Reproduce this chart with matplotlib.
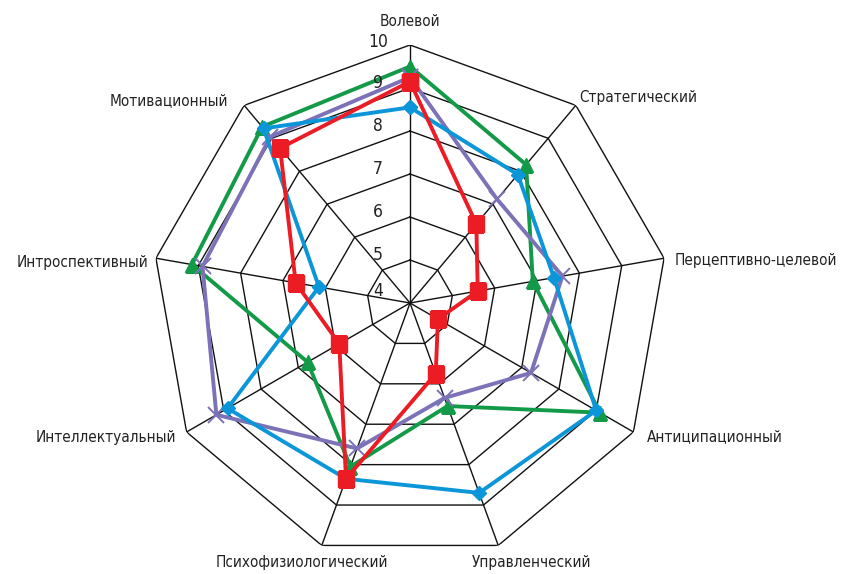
import numpy as np
import matplotlib
matplotlib.use('Agg')
from matplotlib import pyplot as plt
from matplotlib import font_manager as fm
from matplotlib.ft2font import FT2Font
from matplotlib.textpath import TextPath

categories = ['Волевой', 'Стратегический', 'Перцептивно-целевой', 'Антиципационный',
              'Управленческий', 'Психофизиологический', 'Интеллектуальный',
              'Интроспективный', 'Мотивационный']
green = [9.5, 8.2, 6.9, 9.1, 6.55, 8.05, 6.75, 9.15, 9.35]
blue = [8.55, 7.9, 7.4, 9.0, 8.7, 8.35, 8.9, 6.15, 9.3]
purple = [9.25, 7.15, 7.6, 7.25, 6.35, 7.6, 9.2, 8.9, 9.05]
red = [9.15, 6.4, 5.6, 4.75, 5.75, 8.35, 5.9, 6.7, 8.7]
rings = [5, 6, 7, 8, 9, 10]
tick_labels = [4, 5, 6, 7, 8, 9, 10]


def has_cyrillic(path):
    try:
        cmap = FT2Font(path).get_charmap()
    except Exception:
        return False
    return all(ord(ch) in cmap for ch in 'ВолевойПерцж')


# the original uses a condensed grotesque; take a narrow face with cyrillic if there is one
prop = None
for f in fm.fontManager.ttflist:
    narrowish = 'Narrow' in f.name or 'Condensed' in f.name or f.stretch in ('condensed', 'semi-condensed')
    if narrowish and f.weight in (400, 'normal', 'regular') and f.style == 'normal' \
            and 'Mono' not in f.name and has_cyrillic(f.fname):
        prop = fm.FontProperties(fname=f.fname)
        break
if prop is None:
    prop = fm.FontProperties(family='Liberation Sans')

# size chosen so that the widest right-hand label is ~160 px wide, like the reference
w10 = TextPath((0, 0), 'Перцептивно-целевой', size=10, prop=prop).get_extents().width * 100 / 72
fsize = min(14.5, 10 * 160 / w10)

n = len(categories)
angles = np.arange(n) * 2 * np.pi / n
closed = np.append(angles, angles[0])

fig = plt.figure(figsize=(8.46, 5.74), dpi=100)
ax = fig.add_axes([152 / 846, 13 / 574, 516 / 846, 516 / 574], projection='polar')
ax.set_theta_zero_location('N')
ax.set_theta_direction(-1)
ax.set_ylim(4, 10)
ax.axis('off')

# polygon grid
for r in rings:
    ax.plot(closed, [r] * (n + 1), color='#111111', lw=1.0, zorder=1)
for a in angles:
    ax.plot([a, a], [4, 10], color='#111111', lw=1.0, zorder=1)

ax.plot(closed, np.append(green, green[0]), color='#139a48', lw=2.8, marker='^',
        markersize=10.5, zorder=3)
ax.plot(closed, np.append(purple, purple[0]), color='#7b72b8', lw=2.8, marker='x',
        markersize=11, markeredgewidth=1.4, zorder=4)
ax.plot(closed, np.append(blue, blue[0]), color='#0a96d8', lw=2.8, marker='D',
        markersize=7.5, zorder=5)
ax.plot(closed, np.append(red, red[0]), color='#ec1c24', lw=2.8, marker='s',
        markersize=12, zorder=6)

# radial tick labels
for v in tick_labels:
    dy = 5 if v < 10 else 3
    if v == 4:
        dy = 12
    ax.annotate(str(v), xy=(0, v), xytext=(-32 * 0.72, dy * 0.72), textcoords='offset points',
                ha='center', va='center', fontproperties=prop, fontsize=fsize + 1.5,
                color='#222222')

# category labels
offsets = [(0, 23, 'center'), (3, 8, 'left'), (11, -2, 'left'), (13, -5, 'left'),
           (33, -17, 'center'), (-20, -17, 'center'), (-10, -5, 'right'),
           (-8, -4, 'right'), (-16, 5, 'right')]
for a, name, (dx, dy, ha) in zip(angles, categories, offsets):
    ax.annotate(name, xy=(a, 10), xytext=(dx * 0.72, dy * 0.72), textcoords='offset points',
                ha=ha, va='center', fontproperties=prop, fontsize=fsize, color='#222222',
                annotation_clip=False)

plt.savefig('out.png', dpi=100)
